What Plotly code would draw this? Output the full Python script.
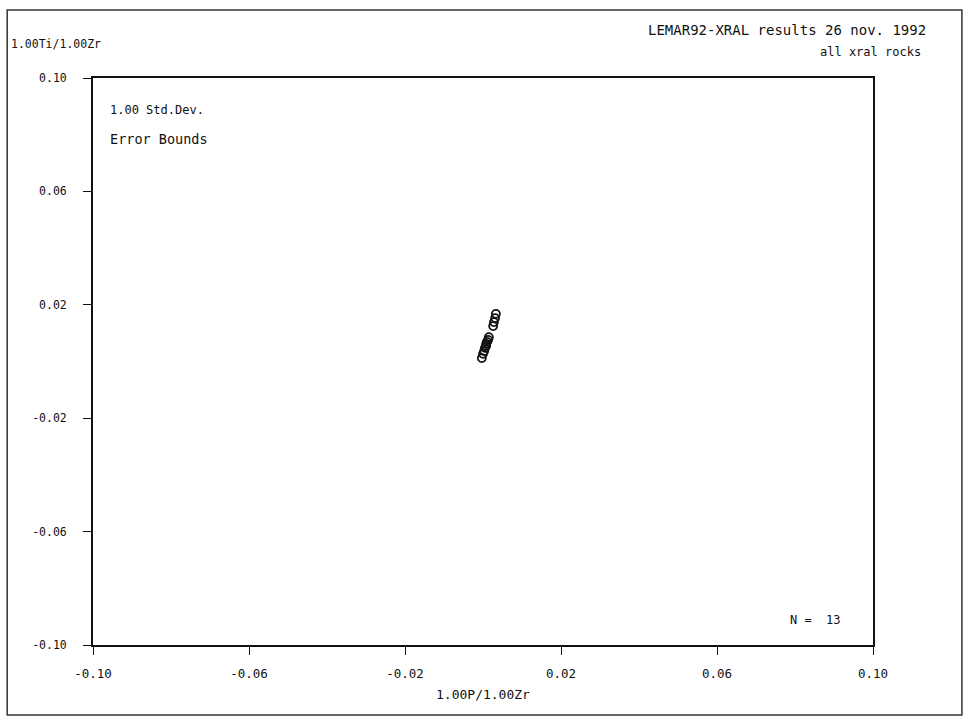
import plotly.graph_objects as go

# Data: 1.00P/1.00Zr (x) vs 1.00Ti/1.00Zr (y)
x_vals = [0.0033, 0.0031, 0.0028, 0.0026,
          0.0015, 0.0013, 0.0010, 0.0008, 0.0008, 0.0005, 0.0003, 0.0000, -0.0003]
y_vals = [0.0168, 0.0153, 0.0139, 0.0125,
          0.0086, 0.0076, 0.0069, 0.0062, 0.0055, 0.0048, 0.0037, 0.0027, 0.0012]

tick_vals = [-0.10, -0.06, -0.02, 0.02, 0.06, 0.10]
tick_text = ["-0.10", "-0.06", "-0.02", "0.02", "0.06", "0.10"]

FONT = "DejaVu Sans Mono"
INK = "#111111"

fig = go.Figure()
fig.add_trace(go.Scatter(
    x=x_vals, y=y_vals, mode="markers",
    marker=dict(symbol="circle-open", size=8, color=INK, line=dict(width=1.8, color=INK)),
    showlegend=False, hoverinfo="x+y",
))

axis_common = dict(
    range=[-0.10, 0.10], tickvals=tick_vals, ticktext=tick_text,
    showgrid=False, zeroline=False, showline=True, linecolor=INK, linewidth=1.8,
    mirror=True, ticks="outside", ticklen=8, tickwidth=1.4, tickcolor=INK,
)

fig.update_layout(
    width=967, height=720,
    margin=dict(l=93, r=94, t=78, b=75),
    paper_bgcolor="white", plot_bgcolor="white",
    xaxis=dict(**axis_common, ticklabelstandoff=8,
               tickfont=dict(family=FONT, size=12.5, color=INK)),
    yaxis=dict(**axis_common, ticklabelstandoff=14,
               tickfont=dict(family=FONT, size=11.5, color=INK)),
    font=dict(family=FONT, color=INK),
)

annots = [
    dict(text="1.00Ti/1.00Zr", x=-0.108, y=1.06, xanchor="left", yanchor="middle", size=11.5),
    dict(text="LEMAR92-XRAL results 26 nov. 1992", x=1.07, y=1.085, xanchor="right", yanchor="middle", size=14),
    dict(text="all xral rocks", x=1.064, y=1.045, xanchor="right", yanchor="middle", size=12),
    dict(text="1.00 Std.Dev.", x=0.019, y=0.943, xanchor="left", yanchor="middle", size=12),
    dict(text="Error Bounds", x=0.019, y=0.893, xanchor="left", yanchor="middle", size=13.5),
    dict(text="N =  13", x=0.961, y=0.044, xanchor="right", yanchor="middle", size=12),
    dict(text="1.00P/1.00Zr", x=0.5, y=-0.088, xanchor="center", yanchor="middle", size=13),
]
for a in annots:
    sz = a.pop("size")
    fig.add_annotation(xref="paper", yref="paper", showarrow=False,
                       font=dict(family=FONT, size=sz, color=INK), **a)

# outer frame
fig.add_shape(type="rect", xref="paper", yref="paper",
              x0=-0.110, x1=1.114, y0=-0.1235, y1=1.12,
              line=dict(color="#333333", width=1.5))

fig.write_html("out.html")
